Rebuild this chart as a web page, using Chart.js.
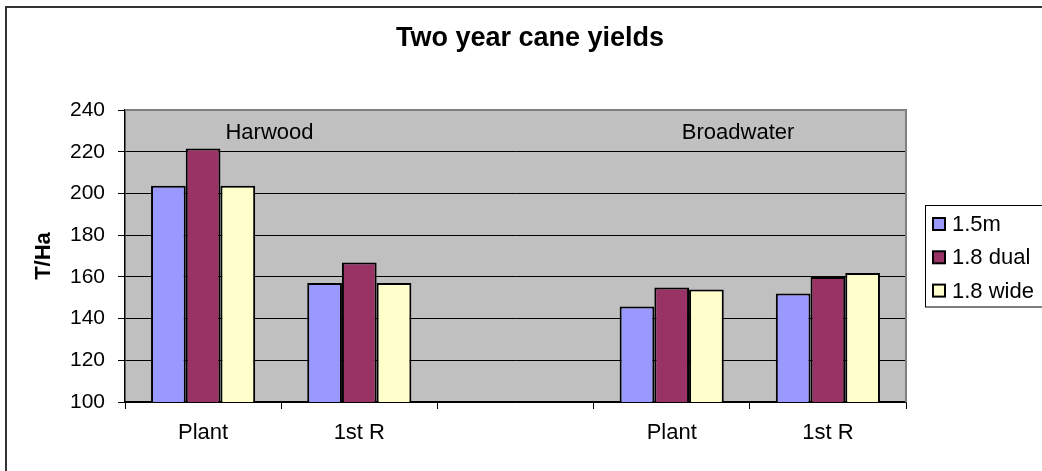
<!DOCTYPE html>
<html>
<head>
<meta charset="utf-8">
<script src="https://cdn.jsdelivr.net/npm/chart.js@4.4.0/dist/chart.umd.min.js"></script>
<style>
  html, body { margin: 0; padding: 0; background: #fff; overflow: hidden; }
  canvas { display: block; }
</style>
</head>
<body>
<canvas id="caneChart" width="1060" height="480"></canvas>
<script>
// values
var categories = ['Plant', '1st R', '', 'Plant', '1st R'];
var yield15m = [203.7, 157, null, 145.8, 152];
var yield18dual = [221.5, 166.9, null, 154.9, 159.9];
var yield18wide = [203.7, 157, null, 153.9, 161.9];
var sites = ['Harwood', 'Broadwater'];
var siteStart = [0, 3];   // first category of each site
var yTicks = { min: 100, max: 240, step: 20 };
var chartTitle = 'Two year cane yields';

Chart.defaults.font.family = '"Liberation Sans", Arial, sans-serif';
Chart.defaults.color = '#000';

// grey plot area, outer frame, title, site labels and the boxed legend
var excelLook = {
    id: 'excelLook',
    beforeDraw: function(chart) {
        var ctx = chart.ctx, a = chart.chartArea;
        ctx.save();
        ctx.fillStyle = '#fff';
        ctx.fillRect(0, 0, chart.width, chart.height);
        ctx.strokeStyle = '#333';
        ctx.lineWidth = 2;
        ctx.strokeRect(6, 7, 2000, 2000);
        ctx.fillStyle = '#C0C0C0';
        ctx.fillRect(a.left, a.top, a.right - a.left, a.bottom - a.top);
        ctx.restore();
    },
    beforeDatasetsDraw: function(chart) {
        var ctx = chart.ctx, a = chart.chartArea;
        ctx.save();
        ctx.strokeStyle = '#808080';
        ctx.lineWidth = 2;
        ctx.beginPath();
        ctx.moveTo(a.left, a.top);
        ctx.lineTo(a.right, a.top);
        ctx.lineTo(a.right, a.bottom);
        ctx.stroke();
        ctx.restore();
    },
    afterDraw: function(chart) {
        var ctx = chart.ctx, a = chart.chartArea;
        var x = chart.scales.x, y = chart.scales.y;
        var catW = (a.right - a.left) / categories.length;
        ctx.save();
        ctx.fillStyle = '#000';
        ctx.textAlign = 'center';
        ctx.textBaseline = 'middle';

        ctx.font = 'bold 27px "Liberation Sans", Arial, sans-serif';
        ctx.fillText(chartTitle, chart.width / 2, 39);

        ctx.font = '22px "Liberation Sans", Arial, sans-serif';
        sites.forEach(function(s, i) {
            ctx.fillText(s, x.getPixelForValue(siteStart[i]) + catW * 0.425, y.getPixelForValue(229));
        });

        // legend
        var lx = a.right + 19, ly = 205.5;
        ctx.strokeStyle = '#000';
        ctx.lineWidth = 1;
        ctx.strokeRect(lx + 0.5, ly, 300, 101.5);
        ctx.textAlign = 'left';
        chart.data.datasets.forEach(function(ds, i) {
            var cy = ly + 18.5 + i * 33.3;
            ctx.fillStyle = ds.backgroundColor;
            ctx.fillRect(lx + 8, cy - 6, 12, 12);
            ctx.lineWidth = 2;
            ctx.strokeRect(lx + 8, cy - 6, 12, 12);
            ctx.fillStyle = '#000';
            ctx.fillText(ds.label, lx + 27, cy + 1);
        });
        ctx.restore();
    }
};

var ctx = document.getElementById('caneChart').getContext('2d');

var caneChart = new Chart(ctx, {
    type: 'bar',
    data: {
        labels: categories,
        datasets: [{
            label: '1.5m',
            data: yield15m,
            backgroundColor: '#9999FF'
        }, {
            label: '1.8 dual',
            data: yield18dual,
            backgroundColor: '#993366'
        }, {
            label: '1.8 wide',
            data: yield18wide,
            backgroundColor: '#FFFFCC'
        }]
    },
    options: {
        responsive: false,
        animation: false,
        devicePixelRatio: 1,
        layout: { padding: { left: 0, right: 154, top: 110, bottom: 0 } },
        datasets: {
            bar: {
                borderColor: '#000',
                borderWidth: 2,
                borderSkipped: 'start',
                categoryPercentage: 2 / 3,
                barPercentage: 1
            }
        },
        plugins: {
            legend: { display: false },
            tooltip: { enabled: false },
            title: { display: false }
        },
        scales: {
            x: {
                afterFit: function(scale) { scale.height = 78; },
                grid: {
                    offset: true,
                    drawOnChartArea: false,
                    color: '#000',
                    tickLength: 7
                },
                border: { color: '#000', width: 1.5 },
                ticks: { font: { size: 22 }, padding: 11, maxRotation: 0 }
            },
            y: {
                min: yTicks.min,
                max: yTicks.max,
                afterFit: function(scale) { scale.width = 125; },
                grid: { color: '#000', lineWidth: 1, tickLength: 7 },
                border: { color: '#000', width: 1.5 },
                ticks: { stepSize: yTicks.step, font: { size: 21 }, padding: 13 },
                title: {
                    display: true,
                    text: 'T/Ha',
                    font: { size: 22, weight: 'bold' },
                    padding: { top: 31 }
                }
            }
        }
    },
    plugins: [excelLook]
});
</script>
</body>
</html>
